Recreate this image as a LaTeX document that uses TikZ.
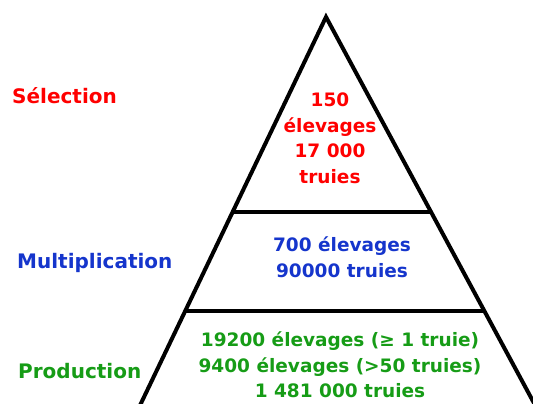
\documentclass[tikz,border=0pt]{standalone}
\usepackage{fontspec}
\setmainfont{DejaVu Sans}
\usetikzlibrary{calc}
\definecolor{selred}{HTML}{FF0000}
\definecolor{multblue}{HTML}{1535CC}
\definecolor{prodgreen}{HTML}{169C16}

\begin{document}
\begin{tikzpicture}[
  x=1pt,y=-1pt,
  side/.style={line width=4pt,line join=miter},
  tier/.style={line width=4pt},
  figs/.style={align=center,inner sep=0pt,font=\bfseries\fontsize{18.5}{25.5}\selectfont},
  lvl/.style={anchor=base west,inner sep=0pt,font=\bfseries\fontsize{20}{24}\selectfont}
]
\useasboundingbox (0,0) rectangle (533,404);
\clip (0,0) rectangle (533,404);
\coordinate (top) at (326,17);
\coordinate (bl) at (137.8,410);
\coordinate (br) at (537.7,410);
\coordinate (l1) at ($(top)!0.497!(bl)$);
\coordinate (r1) at ($(top)!0.497!(br)$);
\coordinate (l2) at ($(top)!0.748!(bl)$);
\coordinate (r2) at ($(top)!0.748!(br)$);
\draw[side] (bl)--(top)--(br);
\draw[tier] (l1)--(r1);
\draw[tier] (l2)--(r2);
\node[lvl,text=selred] (sel) at (12,103.5) {Sélection};
\node[lvl,text=multblue] (mult) at (17,268.5) {Multiplication};
\node[lvl,text=prodgreen] (prod) at (18,378.5) {Production};
\node[figs,text=selred] (selfig) at (330,138.2) {150\\élevages\\17 000\\truies};
\node[figs,text=multblue] (multfig) at (342,257.1) {700 élevages\\90000 truies};
\node[figs,text=prodgreen] (prodfig) at (340,364.8) {19200 élevages (≥ 1 truie)\\9400 élevages (>50 truies)\\1 481 000 truies};
\end{tikzpicture}
\end{document}
